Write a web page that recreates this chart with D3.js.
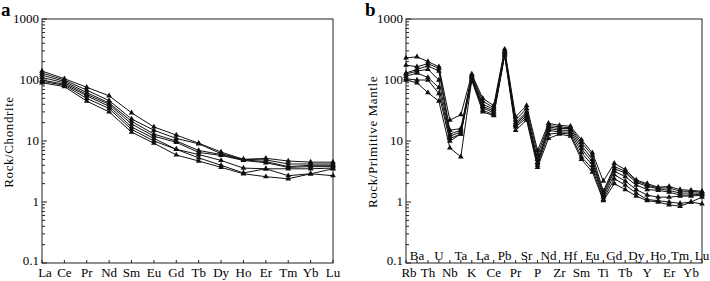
<!DOCTYPE html>
<html>
<head>
<meta charset="utf-8">
<script src="https://cdn.jsdelivr.net/npm/d3@7"></script>
<style>
  body { margin: 0; background: #fff; }
</style>
</head>
<body>
<div id="container"></div>
<script>
/* CONSTANTS AND GLOBALS */
const width = 710, height = 281;

/* DATA */
// panel a - REE normalised to chondrite
const reeElements = ["La","Ce","Pr","Nd","Sm","Eu","Gd","Tb","Dy","Ho","Er","Tm","Yb","Lu"];
const reeS1 = [140, 105, 76, 55, 29, 17, 12.5, 9.2, 6.6, 5.0, 5.2, 4.7, 4.5, 4.5];
const reeS2 = [130, 100, 68, 46, 23, 15, 11, 9.0, 6.2, 5.0, 4.9, 4.2, 4.2, 4.2];
const reeS3 = [120, 95, 62, 42, 21, 13, 10, 7.0, 6.0, 4.9, 4.6, 3.8, 4.0, 4.0];
const reeS4 = [110, 90, 58, 40, 19, 12, 9.5, 6.5, 5.8, 4.8, 4.4, 3.7, 3.8, 3.8];
const reeS5 = [100, 85, 55, 37, 17, 11, 7.3, 6.0, 4.8, 3.6, 3.5, 3.5, 3.5, 3.6];
const reeS6 = [95, 82, 50, 34, 15.5, 10, 7.3, 5.3, 4.0, 3.0, 3.5, 2.7, 2.9, 3.5];
const reeS7 = [90, 78, 45, 30, 14, 9.2, 5.9, 4.7, 3.7, 2.9, 2.6, 2.4, 2.9, 2.7];
const reeSeries = [reeS1, reeS2, reeS3, reeS4, reeS5, reeS6, reeS7];

// panel b - trace elements normalised to primitive mantle
const tracElements = ["Rb","Ba","Th","U","Nb","Ta","K","La","Ce","Pb","Pr","Sr","P","Nd",
  "Zr","Hf","Sm","Eu","Ti","Gd","Tb","Dy","Y","Ho","Er","Tm","Yb","Lu"];
const trS1 = [230, 240, 200, 165, 22, 27, 125, 50, 38, 320, 25, 38, 7.0, 19.5, 18, 17.5, 10.5, 6.4, 2.2, 4.3, 3.4, 2.3, 2.0, 1.75, 1.8, 1.6, 1.55, 1.5];
const trS2 = [175, 165, 185, 155, 15, 16, 120, 45, 35, 300, 22, 34, 6.0, 18, 17, 16.5, 9.5, 5.8, 1.5, 3.8, 3.2, 2.2, 1.9, 1.7, 1.7, 1.5, 1.5, 1.45];
const trS3 = [130, 150, 170, 140, 13, 15, 115, 40, 33, 290, 20, 30, 5.0, 17, 16, 16, 8.5, 5.0, 1.4, 3.5, 3.0, 2.1, 1.8, 1.65, 1.55, 1.4, 1.4, 1.4];
const trS4 = [125, 140, 150, 100, 12, 14, 110, 37, 31, 280, 19, 28, 4.5, 16, 15, 15, 7.5, 4.5, 1.3, 3.2, 2.6, 1.9, 1.6, 1.55, 1.45, 1.3, 1.3, 1.35];
const trS5 = [115, 130, 110, 75, 11, 13, 105, 35, 29, 270, 18, 26, 4.3, 15, 14, 14, 6.5, 4.0, 1.2, 2.8, 2.2, 1.6, 1.3, 1.2, 1.2, 1.25, 1.25, 1.3];
const trS6 = [105, 100, 100, 60, 10, 13, 100, 32, 27, 260, 17, 24, 4.0, 13, 13.5, 13, 5.5, 3.5, 1.1, 2.4, 1.9, 1.4, 1.1, 1.05, 1.0, 0.95, 1.0, 1.2];
const trS7 = [100, 90, 62, 45, 7.7, 5.5, 100, 30, 26, 250, 15, 22, 3.7, 11, 13, 12, 5.0, 3.1, 1.05, 2.0, 1.6, 1.25, 1.05, 1.0, 0.9, 0.85, 1.0, 0.93];
const tracSeries = [trS1, trS2, trS3, trS4, trS5, trS6, trS7];

const yTicks = [0.1, 1, 10, 100, 1000];

/* SVG */
const svg = d3.select("#container")
  .append("svg")
  .attr("width", width)
  .attr("height", height)
  .attr("font-family", "'Liberation Serif', 'Times New Roman', Times, serif");

function drawPanel(opts) {
  const { left, right, top, bottom, elements, series, title, letter, twoRows } = opts;

  const xScale = d3.scalePoint()
    .domain(elements)
    .range([left, right]);

  const yScale = d3.scaleLog()
    .domain([0.1, 1000])
    .range([bottom, top]);

  const g = svg.append("g");

  // frame
  g.append("rect")
    .attr("x", left).attr("y", top)
    .attr("width", right - left).attr("height", bottom - top)
    .attr("fill", "none").attr("stroke", "#222").attr("stroke-width", 1);

  // y axis - major and minor ticks drawn inward
  const minor = [];
  for (let e = -1; e < 3; e++) for (let m = 2; m <= 9; m++) minor.push(m * Math.pow(10, e));
  g.selectAll(".minor")
    .data(minor)
    .join("line")
    .attr("x1", left).attr("x2", left + 3)
    .attr("y1", d => yScale(d)).attr("y2", d => yScale(d))
    .attr("stroke", "#222");
  g.selectAll(".major")
    .data(yTicks)
    .join("line")
    .attr("x1", left).attr("x2", left + 5)
    .attr("y1", d => yScale(d)).attr("y2", d => yScale(d))
    .attr("stroke", "#222");
  g.selectAll(".ylab")
    .data(yTicks)
    .join("text")
    .attr("x", left - 3)
    .attr("y", (d, i) => yScale(d) + (i === 0 ? 2 : 4))
    .attr("text-anchor", "end")
    .attr("font-size", 13)
    .text(d => d);

  // x ticks
  g.selectAll(".xtick")
    .data(elements)
    .join("line")
    .attr("x1", d => xScale(d)).attr("x2", d => xScale(d))
    .attr("y1", bottom).attr("y2", bottom - 3)
    .attr("stroke", "#222");

  // x labels
  g.selectAll(".xlab")
    .data(elements)
    .join("text")
    .attr("x", (d, i) => xScale(d) + (i === 0 ? 3 : 0))
    .attr("y", (d, i) => twoRows && i % 2 === 1 ? bottom - 3 : bottom + 14)
    .attr("text-anchor", "middle")
    .attr("font-size", 13)
    .text(d => d);

  // y title
  g.append("text")
    .attr("transform", `translate(${left - 29},${(top + bottom) / 2 + 1}) rotate(-90)`)
    .attr("text-anchor", "middle")
    .attr("font-size", 13)
    .attr("letter-spacing", 0.6)
    .text(title);

  // panel letter
  g.append("text")
    .attr("x", left - 41)
    .attr("y", top - 3)
    .attr("font-size", 19)
    .attr("font-weight", "bold")
    .text(letter);

  // lines
  const line = d3.line()
    .x((d, i) => xScale(elements[i]))
    .y(d => yScale(d));

  g.selectAll(".series")
    .data(series)
    .join("path")
    .attr("d", line)
    .attr("fill", "none")
    .attr("stroke", "#111")
    .attr("stroke-width", 1);

  // triangle markers
  const tri = d3.symbol().type(d3.symbolTriangle).size(14);
  series.forEach(s => {
    g.selectAll(null)
      .data(s)
      .join("path")
      .attr("d", tri)
      .attr("transform", (d, i) => `translate(${xScale(elements[i])},${yScale(d)})`)
      .attr("fill", "#111");
  });
}

drawPanel({ left: 42, right: 333, top: 19, bottom: 263,
  elements: reeElements, series: reeSeries, title: "Rock/Chondrite", letter: "a", twoRows: false });
drawPanel({ left: 406, right: 702, top: 19, bottom: 263,
  elements: tracElements, series: tracSeries, title: "Rock/Primitive Mantle", letter: "b", twoRows: true });
</script>
</body>
</html>
